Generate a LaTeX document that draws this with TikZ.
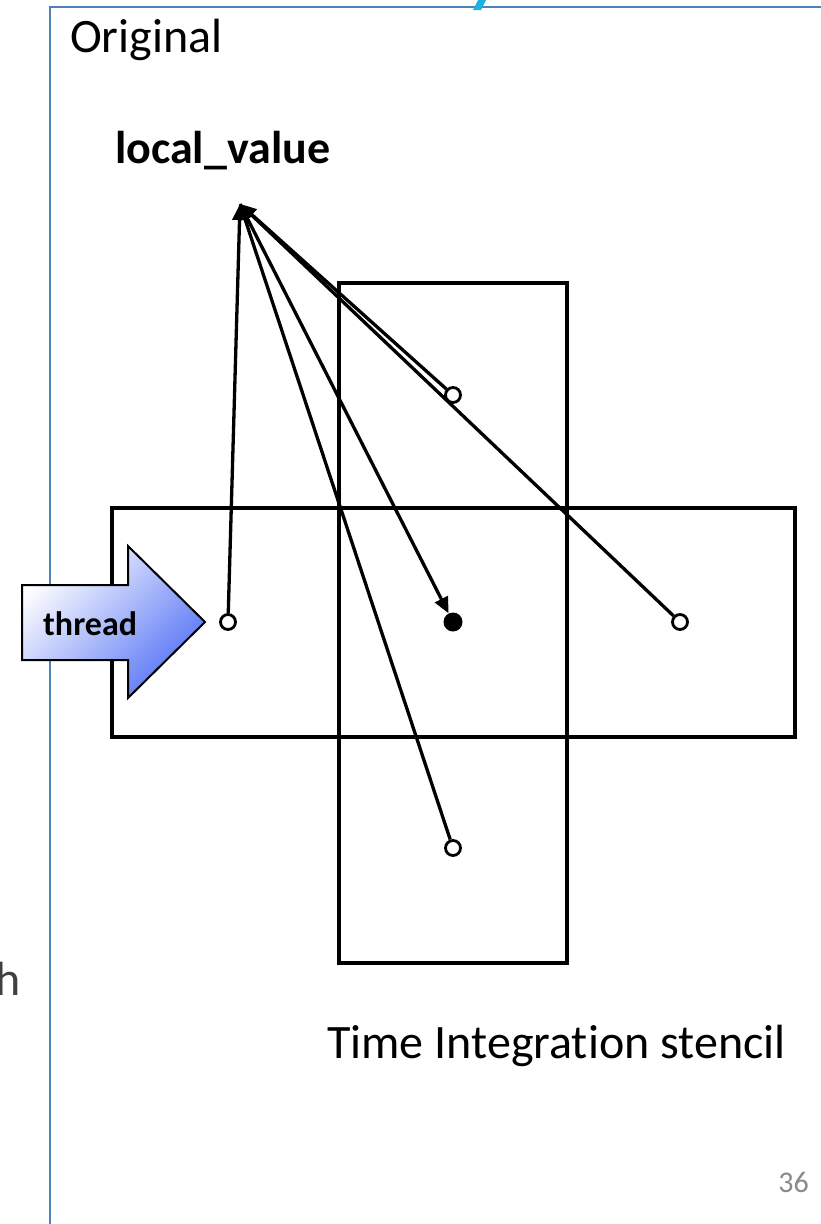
\documentclass[tikz,border=0pt]{standalone}
\usepackage{fontspec}
\setmainfont{Carlito}[Ligatures=NoCommon]
\usetikzlibrary{arrows.meta}
\definecolor{frameblue}{RGB}{79,129,189}
\definecolor{thrblue}{RGB}{85,115,245}
\definecolor{glyphcyan}{RGB}{30,178,228}
\definecolor{numgray}{RGB}{137,137,137}
\definecolor{hgray}{RGB}{64,64,64}
\begin{document}
\begin{tikzpicture}[x=1pt,y=-1pt,
  box/.style={draw, line width=3.5pt},
  pt/.style={circle, draw, line width=2.8pt, fill=white, minimum size=15pt, inner sep=0pt},
  dot/.style={circle, fill=black, minimum size=19pt, inner sep=0pt},
  conn/.style={line width=3.3pt, -{Triangle[length=16pt,width=14pt]}},
  txt/.style={inner sep=0pt, anchor=base west},
  txte/.style={inner sep=0pt, anchor=base east},
]
\clip (0,0) rectangle (821,1224);
\useasboundingbox (0,0) rectangle (821,1224);
% frame and cut glyph
\draw[frameblue, line width=2pt] (830,7) -- (50,7) -- (50,1230);
\fill[glyphcyan] (473,10) -- (481,10) -- (487,-2) -- (479,-2) -- cycle;
% stencil boxes
\draw[box] (339,283) rectangle (567,963);
\draw[box] (112,508) rectangle (795,737);
% thread arrow
\shade[draw=black, line width=2pt, top color=white, bottom color=thrblue, shading angle=45]
  (22,585) -- (128,585) -- (128,546) -- (205,622) -- (128,698) -- (128,660) -- (22,660) -- cycle;
\node[txt] (thr) at (43,635) {\fontsize{34}{40}\selectfont\bfseries thread};
% points
\node[pt] (pl) at (228,622) {};
\node[dot] (pc) at (453,622) {};
\node[pt] (pr) at (680,622) {};
\node[pt] (ptop) at (453,395) {};
\node[pt] (pb) at (453,848) {};
\coordinate (apex) at (240,204);
% connectors
\draw[conn] (pl) -- (apex);
\draw[conn] (ptop) -- (apex);
\draw[conn] (pr) -- (apex);
\draw[conn] (pb) -- (apex);
\draw[conn] (apex) -- (pc);
% texts
\node[txt] (orig) at (70,52) {\fontsize{48}{58}\selectfont Original};
\node[txt] (lv) at (115,163) {\fontsize{46}{55}\selectfont\bfseries local\_value};
\node[txt] (cap) at (327,1058) {\fontsize{48}{58}\selectfont Time Integration stencil};
\node[txte, text=numgray] (pg) at (809,1192) {\fontsize{30}{36}\selectfont 36};
\node[txte, text=hgray] (hh) at (21,995) {\fontsize{48}{58}\selectfont h};
\end{tikzpicture}
\end{document}
